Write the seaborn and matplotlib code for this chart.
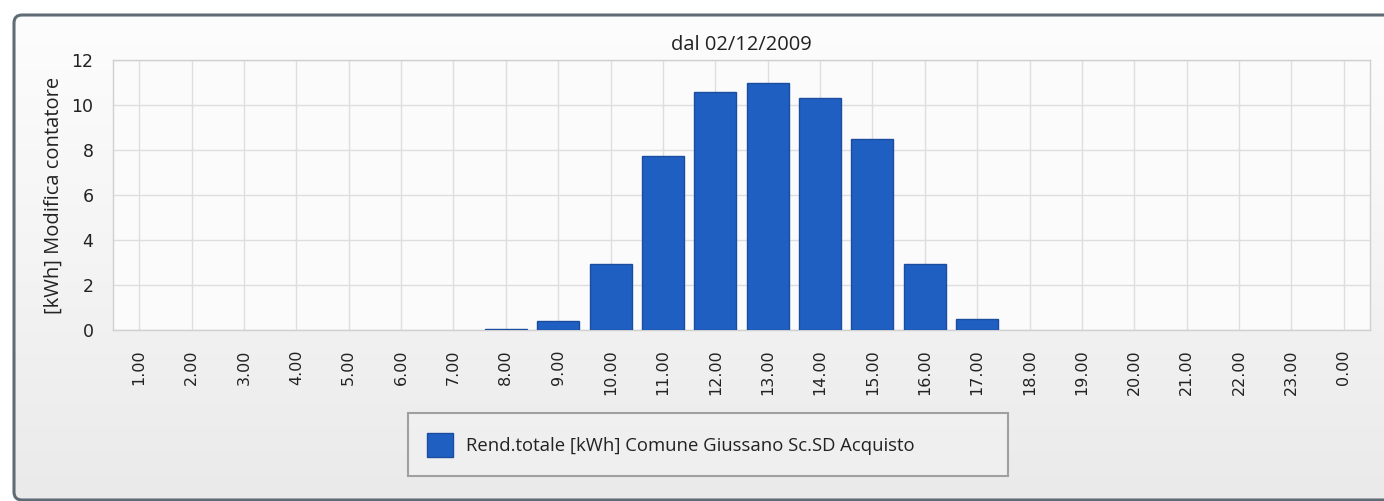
import matplotlib
matplotlib.use("Agg")
import matplotlib.pyplot as plt
import numpy as np
import pandas as pd
import seaborn as sns
from matplotlib.patches import FancyBboxPatch, Patch
from matplotlib.colors import LinearSegmentedColormap

# Hourly energy yield for the day
hours = ["1.00", "2.00", "3.00", "4.00", "5.00", "6.00", "7.00", "8.00",
         "9.00", "10.00", "11.00", "12.00", "13.00", "14.00", "15.00", "16.00",
         "17.00", "18.00", "19.00", "20.00", "21.00", "22.00", "23.00", "0.00"]
energy_kwh = [0, 0, 0, 0, 0, 0, 0, 0.06,
              0.42, 2.95, 7.74, 10.6, 11.0, 10.3, 8.5, 2.95,
              0.5, 0, 0, 0, 0, 0, 0, 0]
series_name = "Rend.totale [kWh] Comune Giussano Sc.SD Acquisto"
title_text = "dal 02/12/2009"
y_label = "[kWh] Modifica contatore"
y_ticks = [0, 2, 4, 6, 8, 10, 12]

df = pd.DataFrame({"hour": hours, "kwh": energy_kwh})

sns.set_style("white")
plt.rcParams["font.family"] = ["DejaVu Sans"]
label_font = ["Open Sans", "DejaVu Sans"]

W, H = 1384, 501
fig = plt.figure(figsize=(W / 100, H / 100), dpi=100)
fig.patch.set_facecolor("white")

# Rounded panel with a soft vertical gradient
bg = fig.add_axes([0, 0, 1, 1], zorder=-10)
bg.set_xlim(0, W)
bg.set_ylim(H, 0)
bg.axis("off")
grad = np.linspace(0, 1, 256)[:, None]
cmap = LinearSegmentedColormap.from_list("panel", ["#fdfdfd", "#f4f4f4", "#eaeaea"])
panel = FancyBboxPatch((14, 15), W + 40, H - 16, boxstyle="round,pad=0,rounding_size=8",
                       facecolor="none", edgecolor="#5f6b75", linewidth=2.2)
bg.add_patch(panel)
im = bg.imshow(grad, cmap=cmap, aspect="auto", extent=(14, W + 40, H - 1, 15), zorder=-1)
im.set_clip_path(panel)

ax = fig.add_axes([113 / W, 1 - 330 / H, (1370 - 113) / W, (330 - 60) / H])
ax.set_facecolor("#fbfbfb")

sns.barplot(data=df, x="hour", y="kwh", color="#1f5fc2", saturation=1,
            width=0.8, edgecolor="#1a4d9e", linewidth=1.0, ax=ax, zorder=3)
# hide outlines of empty hours
for p in ax.patches:
    if p.get_height() == 0:
        p.set_linewidth(0)

ax.set_xlim(-0.5, len(hours) - 0.5)
ax.set_ylim(0, 12)
ax.set_yticks(y_ticks)
ax.grid(True, color="#dedede", linewidth=1.0, linestyle="-", zorder=0)
ax.set_axisbelow(True)
for s in ax.spines.values():
    s.set_color("#d0d0d0")
    s.set_linewidth(1.0)

ax.tick_params(axis="x", rotation=90, labelsize=11.5, length=10, color="#dadada",
               labelcolor="#222222", pad=4)
ax.tick_params(axis="y", labelsize=12.5, length=10, color="#dadada",
               labelcolor="#222222", pad=4)
ax.set_xlabel("")
ax.set_ylabel(y_label, fontsize=14.5, color="#222222", labelpad=6, family=label_font)
ax.set_title(title_text, fontsize=14.5, color="#222222", pad=7, family=label_font)

handle = Patch(facecolor="#1f5fc2", edgecolor="#1a4d9e", label=series_name)
leg = fig.legend(handles=[handle], loc="lower left",
                 bbox_to_anchor=(408 / W, 1 - 476 / H, (1008 - 408) / W, (476 - 416) / H),
                 mode="expand", frameon=True, fancybox=False,
                 prop={"family": label_font, "size": 13.3},
                 handlelength=1.4, handleheight=1.6, borderaxespad=0, borderpad=1.05,
                 handletextpad=0.7)
leg.get_frame().set_edgecolor("#8c8c8c")
leg.get_frame().set_linewidth(1.5)
leg.get_frame().set_facecolor("#f1f1f1")
for t in leg.get_texts():
    t.set_color("#222222")

fig.savefig("out.png", dpi=100)
